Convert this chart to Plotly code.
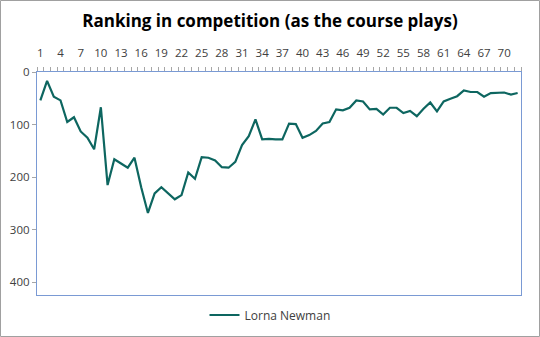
import plotly.graph_objects as go

# Hole-by-hole ranking for the player (lower is better, axis reversed)
holes = list(range(1, 73))
ranking = [54, 17, 47, 54, 95, 86, 113, 125, 147, 67,
           215, 166, 174, 182, 163, 219, 268, 231, 219, 230,
           242, 234, 191, 203, 162, 163, 168, 181, 182, 171,
           139, 122, 90, 128, 127, 128, 128, 98, 99, 125,
           120, 112, 98, 95, 71, 73, 68, 54, 56, 71,
           70, 81, 68, 68, 78, 74, 84, 70, 58, 75,
           56, 51, 46, 35, 38, 38, 47, 40, 40, 39,
           43, 40]
player = "Lorna Newman"
x_labels = holes[::3]
y_max = 424

W, H = 540, 337
L, R, T, B = 37, 19, 72, 42
pw, ph = W - L - R, H - T - B

fig = go.Figure()
fig.add_trace(go.Scatter(
    x=holes, y=ranking, mode="lines", name=player,
    line=dict(color="#0d6660", width=2.2),
))

n = len(holes)
fig.update_layout(
    width=W, height=H,
    margin=dict(l=L, r=R, t=T, b=B, autoexpand=False),
    paper_bgcolor="white", plot_bgcolor="white",
    title=dict(text="<b>Ranking in competition (as the course plays)</b>",
               x=0.5, xref="container", xanchor="center",
               y=1 - 21 / H, yanchor="middle",
               font=dict(family="Open Sans", size=17, color="#000000")),
    font=dict(family="Open Sans", size=11, color="#404040"),
    showlegend=True,
    legend=dict(orientation="h", x=(270 - L) / pw, xanchor="center",
                y=-(315 - (T + ph)) / ph, yanchor="middle",
                font=dict(size=12, color="#404040"),
                bgcolor="rgba(0,0,0,0)"),
    xaxis=dict(
        side="top", range=[0.5, n + 0.5],
        tickmode="array", tickvals=x_labels,
        ticktext=[str(v) for v in x_labels],
        ticks="", showgrid=False, zeroline=False,
        ticklabelstandoff=9,
        showline=True, linecolor="#7a9ad4", linewidth=1.3, mirror=True,
        minor=dict(tickmode="array",
                   tickvals=[i + 0.5 for i in range(n + 1)],
                   ticks="outside", ticklen=4, tickcolor="#a6a6a6",
                   showgrid=False),
        tickfont=dict(size=11.5, color="#404040"),
    ),
    yaxis=dict(
        range=[y_max, 0], tickmode="linear", tick0=0, dtick=100,
        ticks="outside", ticklen=4, tickcolor="#a6a6a6",
        showgrid=False, zeroline=False,
        showline=True, linecolor="#7a9ad4", linewidth=1.3, mirror=True,
        tickfont=dict(size=11.5, color="#404040"),
    ),
)

# Outer chart border
fig.add_shape(type="rect", xref="paper", yref="paper",
              x0=(0.5 - L) / pw, x1=(W - 0.5 - L) / pw,
              y0=-(H - 0.5 - (T + ph)) / ph, y1=(T + ph - 0.5) / ph,
              line=dict(color="#a0a0a0", width=1), layer="below")

fig.write_html("out.html")
